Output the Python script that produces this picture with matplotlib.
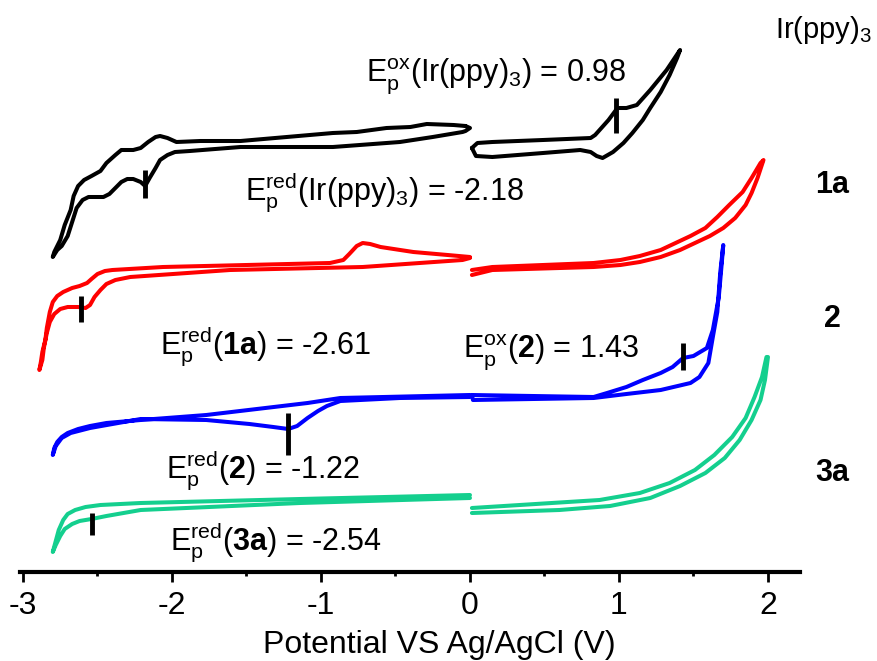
import matplotlib.pyplot as plt

plt.rcParams['font.family'] = 'Liberation Sans'
plt.rcParams['mathtext.fontset'] = 'custom'
plt.rcParams['mathtext.rm'] = 'Liberation Sans'
plt.rcParams['mathtext.it'] = 'Liberation Sans:italic'
plt.rcParams['mathtext.bf'] = 'Liberation Sans:bold'
plt.rcParams['axes.unicode_minus'] = False

# potential (V) / current (a.u., curves already stacked with offsets)
# Ir(ppy)3, cathodic sweep (0 -> -2.8 -> 0)
ir_neg_v = [-0.03, -0.11, -0.29, -0.40, -0.56, -0.76, -0.92, -1.54, -1.81, -1.97, -2.03, -2.08,
            -2.11, -2.16, -2.21, -2.26, -2.34, -2.38, -2.44, -2.48, -2.54, -2.59, -2.63, -2.66,
            -2.68, -2.72, -2.75, -2.79, -2.80,
            -2.77, -2.74, -2.70, -2.67, -2.64, -2.60, -2.56, -2.50, -2.46, -2.42, -2.38, -2.34,
            -2.30, -2.26, -2.21, -2.18, -2.15, -2.11, -2.08, -2.03, -1.98, -1.88, -1.54, -0.92,
            -0.47, -0.25, -0.05, -0.03, 0.00, -0.03]
ir_neg_i = [446, 447, 448, 445, 444, 440, 439, 431, 431, 430, 434, 436,
            435, 430, 424, 422, 422, 417, 409, 401, 396, 392, 386, 376,
            362, 347, 332, 320, 315,
            322, 326, 336, 350, 364, 372, 375, 375, 375, 378, 384, 390,
            393, 393, 390, 386, 394, 404, 412, 417, 420, 421, 425, 425,
            430, 435, 440, 441, 444, 446]
# Ir(ppy)3, anodic sweep (0 -> 1.4 -> 0)
ir_pos_v = [0.013, 0.05, 0.15, 0.49, 0.81, 0.84, 0.87, 0.93, 0.99, 1.05, 1.12, 1.21, 1.32, 1.41,
            1.39, 1.34, 1.28, 1.21, 1.16, 1.09, 1.03, 0.96, 0.89, 0.85, 0.81, 0.74, 0.49, 0.15,
            0.04, 0.013]
ir_pos_i = [424, 429, 430, 432, 434, 437, 442, 452, 464, 464, 467, 482, 502, 522,
            514, 497, 480, 464, 452, 439, 429, 420, 414, 416, 420, 422, 419, 415,
            416, 424]

# 1a
a1_neg_v = [0.00, -0.15, -0.38, -0.60, -0.67, -0.72, -0.76, -0.81, -0.85, -0.94, -2.06, -2.40,
            -2.45, -2.50, -2.54, -2.57, -2.62, -2.67, -2.73, -2.77, -2.80, -2.82, -2.84, -2.85,
            -2.87, -2.88, -2.89,
            -2.87, -2.86, -2.84, -2.82, -2.79, -2.75, -2.70, -2.63, -2.58, -2.55, -2.52, -2.48,
            -2.44, -2.38, -2.28, -1.61, -0.72, -0.05, 0.00]
a1_neg_i = [315, 317, 320, 325, 328, 329, 326, 318, 312, 309, 305, 302,
            301, 298, 293, 289, 286, 284, 280, 276, 270, 260, 244, 232,
            220, 210, 202,
            212, 224, 239, 250, 258, 263, 265, 265, 264, 267, 275, 282,
            288, 292, 295, 302, 305, 312, 314]
a1_pos_v = [0.013, 0.15, 0.83, 1.01, 1.14, 1.28, 1.41, 1.51, 1.61, 1.70, 1.78, 1.85, 1.89,
            1.93, 1.97,
            1.95, 1.89, 1.83, 1.74, 1.66, 1.58, 1.48, 1.38, 1.28, 1.14, 1.01, 0.83, 0.15, 0.013]
a1_pos_i = [297, 302, 305, 307, 310, 315, 322, 329, 336, 344, 354, 367, 379,
            394, 412,
            409, 394, 380, 367, 355, 344, 336, 329, 322, 316, 312, 309, 305, 302]

# 2
c2_neg_v = [0.00, -0.87, -1.09, -1.77, -2.21, -2.44, -2.55, -2.63, -2.70, -2.74, -2.77, -2.79,
            -2.80,
            -2.78, -2.74, -2.68, -2.55, -2.21, -1.77, -1.48, -1.32, -1.22, -1.16, -1.09, -1.02,
            -0.96, -0.87, -0.47, 0.00]
c2_neg_i = [177, 174, 169, 157, 152, 149, 146, 143, 139, 135, 130, 124,
            117,
            126, 134, 139, 144, 153, 152, 148, 145, 143, 146, 154, 161,
            166, 171, 174, 175]
c2_pos_v = [0.013, 0.83, 0.92, 1.05, 1.16, 1.28, 1.36, 1.43, 1.50, 1.59, 1.63, 1.67, 1.69, 1.70,
            1.68, 1.66, 1.63, 1.60, 1.54, 1.48, 1.28, 1.05, 0.83, 0.02, 0.013]
c2_pos_i = [177, 175, 179, 185, 192, 199, 205, 214, 216, 224, 242, 275, 309, 327,
            300, 260, 235, 209, 195, 189, 182, 178, 174, 172, 177]

# 3a
a3_neg_v = [0.00, -1.14, -2.21, -2.48, -2.58, -2.65, -2.70, -2.73, -2.76, -2.78, -2.80,
            -2.78, -2.75, -2.72, -2.67, -2.62, -2.54, -2.44, -2.21, -1.14, 0.00]
a3_neg_i = [77, 73, 69, 67, 65, 62, 58, 52, 42, 31, 20,
            27, 36, 43, 48, 51, 53, 56, 62, 69, 74]
a3_pos_v = [0.013, 0.87, 1.14, 1.34, 1.51, 1.64, 1.76, 1.85, 1.91, 1.96, 1.99,
            2.00, 1.98, 1.95, 1.89, 1.81, 1.71, 1.58, 1.41, 1.21, 0.94, 0.60, 0.013]
a3_pos_i = [64, 72, 79, 89, 102, 117, 135, 154, 175, 195, 215,
            215, 192, 172, 152, 132, 114, 99, 86, 74, 66, 62, 59]

# peak markers: potential, current range
peak_v = [-2.18, 0.98, -2.61, -1.22, 1.43, -2.54]
peak_lo = [374, 439, 250, 117, 202, 37]
peak_hi = [402, 474, 276, 159, 229, 59]

curves = [
    (ir_neg_v, ir_neg_i, ir_pos_v, ir_pos_i, 'black'),
    (a1_neg_v, a1_neg_i, a1_pos_v, a1_pos_i, '#ff0000'),
    (c2_neg_v, c2_neg_i, c2_pos_v, c2_pos_i, '#0000ff'),
    (a3_neg_v, a3_neg_i, a3_pos_v, a3_pos_i, '#14cf8e'),
]

fig = plt.figure(figsize=(8.78, 6.61), dpi=100)
ax = fig.add_axes([20 / 878, 89 / 661, 780 / 878, 572 / 661])

for nv, ni, pv, pi, c in curves:
    ax.plot(nv, ni, color=c, lw=2.9, solid_joinstyle='round', solid_capstyle='round')
    ax.plot(pv, pi, color=c, lw=2.9, solid_joinstyle='round', solid_capstyle='round')

ax.vlines(peak_v, peak_lo, peak_hi, color='black', lw=3.5)

fs = 22
ax.text(-0.70, 490, r'E$_\mathrm{p}^\mathrm{ox}$(Ir(ppy)$_3$) = 0.98', fontsize=fs, va='baseline')
ax.text(-1.51, 372, r'E$_\mathrm{p}^\mathrm{red}$(Ir(ppy)$_3$) = -2.18', fontsize=fs, va='baseline')
ax.text(-2.08, 219, r'E$_\mathrm{p}^\mathrm{red}$($\mathbf{1a}$) = -2.61', fontsize=fs, va='baseline')
ax.text(-0.05, 215, r'E$_\mathrm{p}^\mathrm{ox}$($\mathbf{2}$) = 1.43', fontsize=fs, va='baseline')
ax.text(-2.04, 94, r'E$_\mathrm{p}^\mathrm{red}$($\mathbf{2}$) = -1.22', fontsize=fs, va='baseline')
ax.text(-2.01, 22, r'E$_\mathrm{p}^\mathrm{red}$($\mathbf{3a}$) = -2.54', fontsize=fs, va='baseline')

ax.text(2.045, 534, r'Ir(ppy)$_3$', fontsize=21, va='baseline', clip_on=False)
ax.text(2.43, 379, '1a', fontsize=fs, fontweight='bold', ha='center', va='baseline', clip_on=False)
ax.text(2.43, 245, '2', fontsize=fs, fontweight='bold', ha='center', va='baseline', clip_on=False)
ax.text(2.43, 91, '3a', fontsize=fs, fontweight='bold', ha='center', va='baseline', clip_on=False)

ax.set_xlim(-3.02, 2.215)
ax.set_ylim(0, 572)
ax.set_xticks([-3, -2, -1, 0, 1, 2])
ax.set_xticks([-2.5, -1.5, -0.5, 0.5, 1.5], minor=True)
ax.tick_params(axis='x', which='major', length=7, width=2, labelsize=23, pad=7)
ax.tick_params(axis='x', which='minor', length=3, width=2)
ax.set_yticks([])
for s in ['left', 'right', 'top']:
    ax.spines[s].set_visible(False)
ax.spines['bottom'].set_linewidth(3)

fig.text(439 / 878, (661 - 645) / 661, 'Potential VS Ag/AgCl (V)', fontsize=23,
         ha='center', va='center')

fig.savefig('out.png', dpi=100)
